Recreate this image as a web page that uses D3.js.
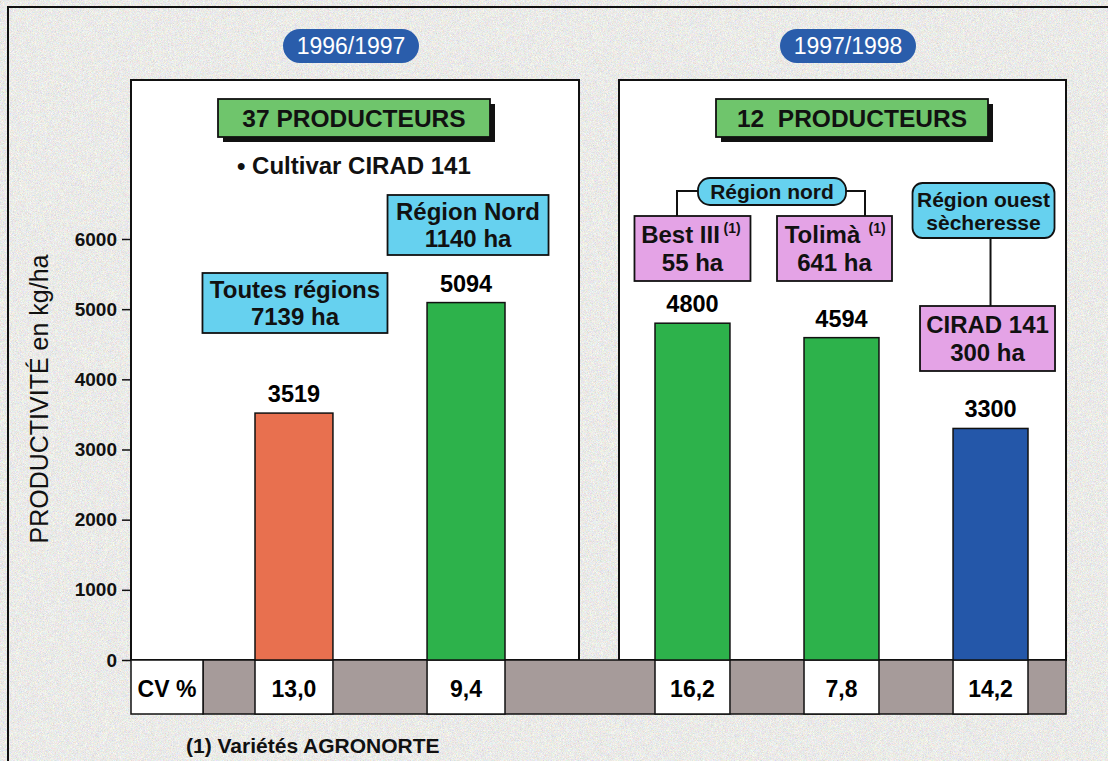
<!DOCTYPE html>
<html>
<head>
<meta charset="utf-8">
<script src="https://cdn.jsdelivr.net/npm/d3@7"></script>
<style>
  body { margin: 0; background: #fff; }
  svg { display: block; }
  text { font-family: "Liberation Sans", Arial, sans-serif; }
</style>
</head>
<body>
<div id="chart"></div>
<script>
// data
var seasons = ["1996/1997", "1997/1998"];
var producers = ["37 PRODUCTEURS", "12\u00a0 PRODUCTEURS"];
var leftCats = ["Toutes régions", "Région Nord"];
var leftAreas = ["7139 ha", "1140 ha"];
var leftValues = [3519, 5094];
var leftCV = ["13,0", "9,4"];
var rightCats = ["Best III", "Tolimà", "CIRAD 141"];
var rightAreas = ["55 ha", "641 ha", "300 ha"];
var rightValues = [4800, 4594, 3300];
var rightCV = ["16,2", "7,8", "14,2"];
var yTicks = [0, 1000, 2000, 3000, 4000, 5000, 6000];
var leftColors = ["#e8704f", "#2db24b"];
var rightColors = ["#2db24b", "#2db24b", "#2457a9"];

var svgWidth = 1108;
var svgHeight = 761;

var panelTop = 80;
var zeroY = 660;
var cvBottom = 714;
var leftPanel = [131, 579];
var rightPanel = [619, 1066];

var stone = "#d6d1d0";
var cvGrey = "#a69b9a";
var boxGreen = "#6fc56c";
var boxCyan = "#66d1ef";
var boxPink = "#e4a3e6";
var pillBlue = "#2a5dab";
var ink = "#111";

var svg = d3.select("#chart")
  .append("svg")
  .attr("width", svgWidth)
  .attr("height", svgHeight);

// stone texture
var defs = svg.append("defs");
var noise = defs.append("filter")
  .attr("id", "stone")
  .attr("x", 0).attr("y", 0).attr("width", 1).attr("height", 1);
noise.append("feTurbulence")
  .attr("type", "fractalNoise")
  .attr("baseFrequency", 1.4)
  .attr("numOctaves", 2)
  .attr("seed", 7);
noise.append("feColorMatrix")
  .attr("type", "matrix")
  .attr("values", "0.55 0.1 0 0 0.5  0.1 0.5 0.05 0 0.5  0 0.1 0.55 0 0.48  0 0 0 0 1");

svg.append("rect")
  .attr("width", svgWidth)
  .attr("height", svgHeight)
  .attr("fill", stone)
  .attr("filter", "url(#stone)");

// outer frame, only its top and left edges are inside the picture
svg.append("rect")
  .attr("x", 8).attr("y", 7)
  .attr("width", 1120).attr("height", 770)
  .attr("fill", "none")
  .attr("stroke", ink)
  .attr("stroke-width", 2);

var y = d3.scaleLinear().domain([0, 6000]).range([zeroY, 239]);

var xLeft = d3.scaleBand()
  .domain(leftCats)
  .range([255, 505])
  .paddingInner(0.547)
  .paddingOuter(0);

var xRight = d3.scaleBand()
  .domain(rightCats)
  .range([655, 1028])
  .paddingInner(0.497)
  .paddingOuter(0);

// season pills
var pillCenters = [351, 848];
seasons.forEach(function(s, i) {
  var g = svg.append("g").attr("transform", `translate(${pillCenters[i]}, 46)`);
  g.append("rect")
    .attr("x", -68).attr("y", -17)
    .attr("width", 136).attr("height", 34)
    .attr("rx", 17)
    .attr("fill", pillBlue);
  g.append("text")
    .attr("y", 8)
    .attr("text-anchor", "middle")
    .attr("fill", "#fff")
    .style("font-size", "23px")
    .text(s);
});

// white panels
[leftPanel, rightPanel].forEach(function(p) {
  svg.append("rect")
    .attr("x", p[0]).attr("y", panelTop)
    .attr("width", p[1] - p[0]).attr("height", zeroY - panelTop)
    .attr("fill", "#fff")
    .attr("stroke", ink)
    .attr("stroke-width", 2);
});

// CV row
var cvGroup = svg.append("g");
cvGroup.append("rect")
  .attr("x", 203).attr("y", zeroY)
  .attr("width", rightPanel[1] - 203).attr("height", cvBottom - zeroY)
  .attr("fill", cvGrey)
  .attr("stroke", ink)
  .attr("stroke-width", 1.5);
cvGroup.append("rect")
  .attr("x", leftPanel[0]).attr("y", zeroY)
  .attr("width", 203 - leftPanel[0]).attr("height", cvBottom - zeroY)
  .attr("fill", "#fff")
  .attr("stroke", ink)
  .attr("stroke-width", 1.5);
cvGroup.append("text")
  .attr("x", 167).attr("y", zeroY + 37)
  .attr("text-anchor", "middle")
  .style("font-size", "23px")
  .style("font-weight", "bold")
  .text("CV %");

function cvCells(scale, cats, cv) {
  cvGroup.selectAll(null)
    .data(cats)
    .enter()
    .append("rect")
    .attr("x", d => scale(d))
    .attr("y", zeroY)
    .attr("width", scale.bandwidth())
    .attr("height", cvBottom - zeroY)
    .attr("fill", "#fff")
    .attr("stroke", ink)
    .attr("stroke-width", 1.5);
  cvGroup.selectAll(null)
    .data(cats)
    .enter()
    .append("text")
    .attr("x", d => scale(d) + scale.bandwidth() / 2)
    .attr("y", zeroY + 37)
    .attr("text-anchor", "middle")
    .style("font-size", "23px")
    .style("font-weight", "bold")
    .text((d, i) => cv[i]);
}
cvCells(xLeft, leftCats, leftCV);
cvCells(xRight, rightCats, rightCV);

// bars
function drawBars(scale, cats, values, colors) {
  var g = svg.append("g");
  g.selectAll("rect")
    .data(cats)
    .enter()
    .append("rect")
    .attr("x", d => scale(d))
    .attr("y", (d, i) => y(values[i]))
    .attr("width", scale.bandwidth())
    .attr("height", (d, i) => zeroY - y(values[i]))
    .attr("fill", (d, i) => colors[i])
    .attr("stroke", ink)
    .attr("stroke-width", 1.5);
  g.selectAll("text")
    .data(cats)
    .enter()
    .append("text")
    .attr("x", d => scale(d) + scale.bandwidth() / 2)
    .attr("y", (d, i) => y(values[i]) - 11)
    .attr("text-anchor", "middle")
    .style("font-size", "23.5px")
    .style("font-weight", "bold")
    .text((d, i) => values[i]);
}
drawBars(xLeft, leftCats, leftValues, leftColors);
drawBars(xRight, rightCats, rightValues, rightColors);

// y axis
var leftAxis = d3.axisLeft(y)
  .tickValues(yTicks)
  .tickSize(9)
  .tickPadding(5)
  .tickFormat(d3.format("d"));

var yAxis = svg.append("g")
  .attr("transform", `translate(${leftPanel[0]}, 0)`)
  .call(leftAxis);
yAxis.select(".domain").remove();
yAxis.selectAll(".tick line").attr("stroke", ink).attr("stroke-width", 1.5);
yAxis.selectAll(".tick text")
  .attr("fill", ink)
  .style("font-family", "'Liberation Sans', Arial, sans-serif")
  .style("font-size", "19px")
  .style("font-weight", "bold");

svg.append("text")
  .attr("transform", "rotate(-90)")
  .attr("x", -399)
  .attr("y", 48)
  .attr("text-anchor", "middle")
  .style("font-size", "25px")
  .attr("fill", ink)
  .text("PRODUCTIVITÉ en kg/ha");

// annotation boxes
function box(cx, top, w, h, fill, lines, opts) {
  opts = opts || {};
  var g = svg.append("g");
  if (opts.shadow) {
    g.append("rect")
      .attr("x", cx - w / 2 + 5).attr("y", top + 5)
      .attr("width", w).attr("height", h)
      .attr("fill", ink);
  }
  g.append("rect")
    .attr("x", cx - w / 2).attr("y", top)
    .attr("width", w).attr("height", h)
    .attr("rx", opts.rx || 0)
    .attr("fill", fill)
    .attr("stroke", ink)
    .attr("stroke-width", 1.8);
  var fs = opts.size || 24;
  var lh = opts.lineHeight || fs * 1.15;
  var first = top + h / 2 - (lines.length - 1) * lh / 2 + fs * 0.36;
  var dx = opts.dx || [];
  lines.forEach(function(l, i) {
    g.append("text")
      .attr("x", cx + (dx[i] || 0))
      .attr("y", first + i * lh)
      .attr("text-anchor", "middle")
      .style("font-size", fs + "px")
      .style("font-weight", "bold")
      .attr("fill", ink)
      .text(l);
  });
  return g;
}

function line(points) {
  svg.append("path")
    .attr("d", d3.line()(points))
    .attr("fill", "none")
    .attr("stroke", ink)
    .attr("stroke-width", 2);
}

box(354, 99, 272, 38, boxGreen, [producers[0]], {shadow: true, size: 24.5});
box(852, 99, 272, 38, boxGreen, [producers[1]], {shadow: true, size: 24.5});

svg.append("text")
  .attr("x", 237).attr("y", 174)
  .style("font-size", "24px")
  .style("font-weight", "bold")
  .attr("fill", ink)
  .text("• Cultivar CIRAD 141");

var cL = leftCats.map(d => xLeft(d) + xLeft.bandwidth() / 2);
var cR = rightCats.map(d => xRight(d) + xRight.bandwidth() / 2);

box(cL[0] + 1, 273, 185, 60, boxCyan, [leftCats[0], leftAreas[0]], {size: 24, lineHeight: 27});
box(cL[1] + 2, 195, 161, 60, boxCyan, [leftCats[1], leftAreas[1]], {size: 24, lineHeight: 27});

// Région nord bracket
line([[677, 216], [677, 191], [865, 191], [865, 216]]);
box(772, 178, 148, 27, boxCyan, ["Région nord"], {rx: 12, size: 21});

var best = box(cR[0], 216, 116, 65, boxPink, [rightCats[0], rightAreas[0]], {size: 24, lineHeight: 28, dx: [-12, 0]});
var toli = box(cR[1] - 7, 216, 115, 65, boxPink, [rightCats[1], rightAreas[1]], {size: 24, lineHeight: 28, dx: [-12, 0]});
[[best, cR[0] + 31], [toli, cR[1] - 7 + 34]].forEach(function(b) {
  b[0].append("text")
    .attr("x", b[1]).attr("y", 233)
    .style("font-size", "14px")
    .style("font-weight", "bold")
    .attr("fill", ink)
    .text("(1)");
});

// Région ouest
line([[cR[2], 238], [cR[2], 306]]);
box(cR[2] - 7, 183, 142, 55, boxCyan, ["Région ouest", "sècheresse"], {rx: 10, size: 21, lineHeight: 23});
box(cR[2] - 3, 306, 135, 65, boxPink, [rightCats[2], rightAreas[2]], {size: 24, lineHeight: 28});

// footnote
svg.append("text")
  .attr("x", 186).attr("y", 753)
  .style("font-size", "21px")
  .style("font-weight", "bold")
  .attr("fill", ink)
  .text("(1) Variétés AGRONORTE");
</script>
</body>
</html>
